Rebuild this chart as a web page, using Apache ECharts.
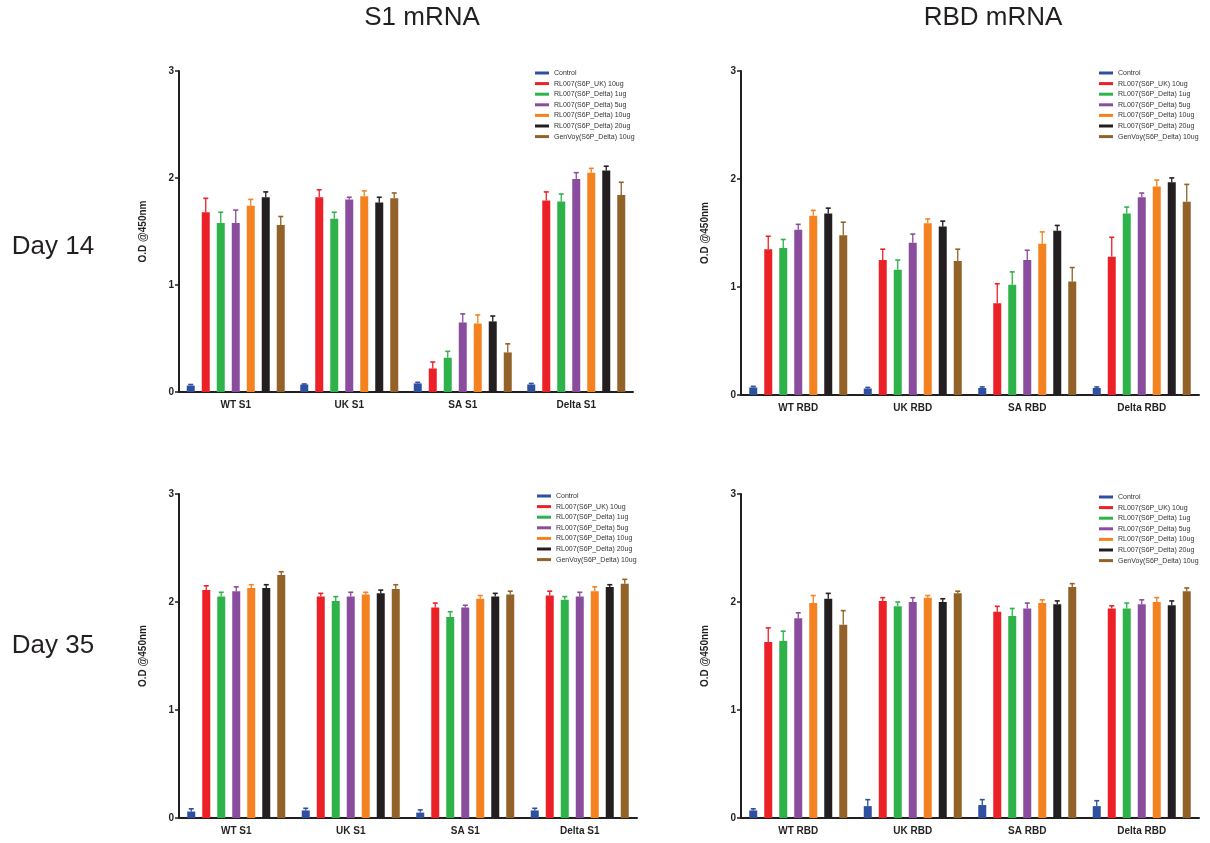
<!DOCTYPE html>
<html lang="en">
<head>
    <meta charset="UTF-8">
    <title>ELISA O.D</title>
    <script src="https://cdn.jsdelivr.net/npm/echarts@6/dist/echarts.min.js"></script>
    <style>
        html, body { margin: 0; padding: 0; background: #fff; }
    </style>
</head>
<body>
    <div id="main" style="width: 1210px; height: 843px;"></div>
    <script>
        const groupNames = [
            'Control',
            'RL007(S6P_UK) 10ug',
            'RL007(S6P_Delta) 1ug',
            'RL007(S6P_Delta) 5ug',
            'RL007(S6P_Delta) 10ug',
            'RL007(S6P_Delta) 20ug',
            'GenVoy(S6P_Delta) 10ug'
        ];
        const groupColors = ['#2f4fa0', '#ec2027', '#2db34a', '#8a4c9c', '#f58220', '#231f20', '#936228'];

        const s1Categories = ['WT S1', 'UK S1', 'SA S1', 'Delta S1'];
        const rbdCategories = ['WT RBD', 'UK RBD', 'SA RBD', 'Delta RBD'];

        // one row per group, one value per variant
        const s1Day14Mean = [
            [0.06, 0.07, 0.08, 0.07],
            [1.68, 1.82, 0.22, 1.79],
            [1.58, 1.62, 0.32, 1.78],
            [1.58, 1.80, 0.65, 1.99],
            [1.74, 1.83, 0.64, 2.05],
            [1.82, 1.77, 0.66, 2.07],
            [1.56, 1.81, 0.37, 1.84]
        ];
        const s1Day14Err = [
            [0.01, 0.005, 0.01, 0.01],
            [0.13, 0.07, 0.06, 0.08],
            [0.10, 0.06, 0.06, 0.07],
            [0.12, 0.02, 0.08, 0.06],
            [0.06, 0.05, 0.08, 0.04],
            [0.05, 0.05, 0.05, 0.04],
            [0.08, 0.05, 0.08, 0.12]
        ];
        const rbdDay14Mean = [
            [0.07, 0.06, 0.065, 0.065],
            [1.35, 1.25, 0.85, 1.28],
            [1.36, 1.16, 1.02, 1.68],
            [1.53, 1.41, 1.25, 1.83],
            [1.66, 1.59, 1.40, 1.93],
            [1.68, 1.56, 1.52, 1.97],
            [1.48, 1.24, 1.05, 1.79]
        ];
        const rbdDay14Err = [
            [0.01, 0.01, 0.01, 0.01],
            [0.12, 0.10, 0.18, 0.18],
            [0.08, 0.09, 0.12, 0.06],
            [0.05, 0.08, 0.09, 0.04],
            [0.05, 0.04, 0.11, 0.06],
            [0.05, 0.05, 0.05, 0.04],
            [0.12, 0.11, 0.13, 0.16]
        ];
        const s1Day35Mean = [
            [0.06, 0.07, 0.05, 0.07],
            [2.11, 2.05, 1.95, 2.06],
            [2.05, 2.01, 1.86, 2.02],
            [2.10, 2.05, 1.95, 2.05],
            [2.13, 2.07, 2.03, 2.10],
            [2.13, 2.08, 2.05, 2.14],
            [2.25, 2.12, 2.07, 2.17]
        ];
        const s1Day35Err = [
            [0.025, 0.02, 0.025, 0.02],
            [0.04, 0.03, 0.04, 0.04],
            [0.04, 0.04, 0.05, 0.03],
            [0.04, 0.04, 0.02, 0.04],
            [0.03, 0.02, 0.03, 0.04],
            [0.03, 0.03, 0.03, 0.02],
            [0.03, 0.04, 0.03, 0.04]
        ];
        const rbdDay35Mean = [
            [0.07, 0.11, 0.12, 0.11],
            [1.63, 2.01, 1.91, 1.94],
            [1.64, 1.96, 1.87, 1.94],
            [1.85, 2.00, 1.94, 1.98],
            [1.99, 2.04, 1.99, 2.00],
            [2.03, 2.00, 1.98, 1.97],
            [1.79, 2.08, 2.14, 2.10]
        ];
        const rbdDay35Err = [
            [0.015, 0.06, 0.05, 0.05],
            [0.13, 0.03, 0.05, 0.025],
            [0.09, 0.04, 0.07, 0.05],
            [0.05, 0.04, 0.05, 0.04],
            [0.07, 0.02, 0.03, 0.04],
            [0.05, 0.03, 0.03, 0.04],
            [0.13, 0.02, 0.03, 0.03]
        ];

        const yTicks = [0, 1, 2, 3];

        const FONT = '"Liberation Sans", Arial, sans-serif';
        const INK = '#231f20';
        const BAR_W = 8;
        const BAR_STEP = 15; // bar width + gap

        const panels = [
            { cats: s1Categories, mean: s1Day14Mean, err: s1Day14Err,
              grid: { left: 179, top: 71, width: 454, height: 321 }, legend: { left: 530, top: 64 } },
            { cats: rbdCategories, mean: rbdDay14Mean, err: rbdDay14Err,
              grid: { left: 741, top: 71, width: 458, height: 324 }, legend: { left: 1094, top: 64 } },
            { cats: s1Categories, mean: s1Day35Mean, err: s1Day35Err,
              grid: { left: 179, top: 494, width: 458, height: 324 }, legend: { left: 532, top: 487 } },
            { cats: rbdCategories, mean: rbdDay35Mean, err: rbdDay35Err,
              grid: { left: 741, top: 494, width: 458, height: 324 }, legend: { left: 1094, top: 488 } }
        ];

        function errorBar(params, api) {
            const k = api.value(3);
            const base = api.coord([api.value(0), api.value(1)]);
            const top = api.coord([api.value(0), api.value(2)]);
            const x = base[0] + (k - 3) * BAR_STEP;
            const c = groupColors[k];
            return {
                type: 'group',
                children: [
                    { type: 'line', shape: { x1: x, y1: base[1], x2: x, y2: top[1] },
                      style: { stroke: c, lineWidth: 1.3 } },
                    { type: 'line', shape: { x1: x - 2.5, y1: top[1], x2: x + 2.5, y2: top[1] },
                      style: { stroke: c, lineWidth: 1.6 } }
                ]
            };
        }

        const grids = [], xAxes = [], yAxes = [], legends = [], series = [];
        panels.forEach(function (p, pi) {
            grids.push(p.grid);
            xAxes.push({
                type: 'category', gridIndex: pi, data: p.cats,
                axisLine: { lineStyle: { color: INK, width: 2 } },
                axisTick: { alignWithLabel: true, length: 5, lineStyle: { width: 2, color: INK } },
                axisLabel: { color: INK, fontWeight: 'bold', fontSize: 10, fontFamily: FONT, margin: 8 }
            });
            yAxes.push({
                type: 'value', gridIndex: pi, min: yTicks[0], max: yTicks[yTicks.length - 1], interval: 1,
                name: 'O.D @450nm', nameLocation: 'middle', nameGap: 31,
                nameTextStyle: { color: INK, fontWeight: 'bold', fontSize: 10, fontFamily: FONT },
                axisLine: { show: true, lineStyle: { color: INK, width: 2 } },
                axisTick: { show: true, length: 4, lineStyle: { width: 1.5, color: INK } },
                axisLabel: { color: INK, fontWeight: 'bold', fontSize: 10, fontFamily: FONT, margin: 5 },
                splitLine: { show: false }
            });
            legends.push({
                orient: 'vertical', left: p.legend.left, top: p.legend.top,
                data: groupNames, icon: 'rect', itemWidth: 14, itemHeight: 3, itemGap: 2.6,
                selectedMode: false,
                textStyle: { fontSize: 7, lineHeight: 8, color: '#333', fontFamily: FONT }
            });
            const errData = [];
            groupNames.forEach(function (name, k) {
                series.push({
                    name: name, type: 'bar', xAxisIndex: pi, yAxisIndex: pi,
                    data: p.mean[k], barWidth: BAR_W, barGap: '87.5%',
                    itemStyle: { color: groupColors[k] }, animation: false
                });
                p.mean[k].forEach(function (v, ci) {
                    errData.push([ci, v, v + p.err[k][ci], k]);
                });
            });
            series.push({
                type: 'custom', xAxisIndex: pi, yAxisIndex: pi, renderItem: errorBar,
                data: errData, z: 5, animation: false, silent: true
            });
        });

        const headings = [
            { text: 'S1 mRNA', x: 422, y: 18 },
            { text: 'RBD mRNA', x: 993, y: 18 },
            { text: 'Day 14', x: 53, y: 247 },
            { text: 'Day 35', x: 53, y: 646 }
        ];

        var myChart = echarts.init(document.getElementById('main'));
        option = {
            backgroundColor: '#fff',
            animation: false,
            grid: grids,
            xAxis: xAxes,
            yAxis: yAxes,
            legend: legends,
            graphic: headings.map(function (h) {
                return {
                    type: 'text', x: h.x, y: h.y,
                    style: { text: h.text, fontSize: 26, fontFamily: FONT, fill: INK,
                             textAlign: 'center', textVerticalAlign: 'middle' }
                };
            }),
            series: series
        };
        myChart.setOption(option);
    </script>
</body>
</html>
